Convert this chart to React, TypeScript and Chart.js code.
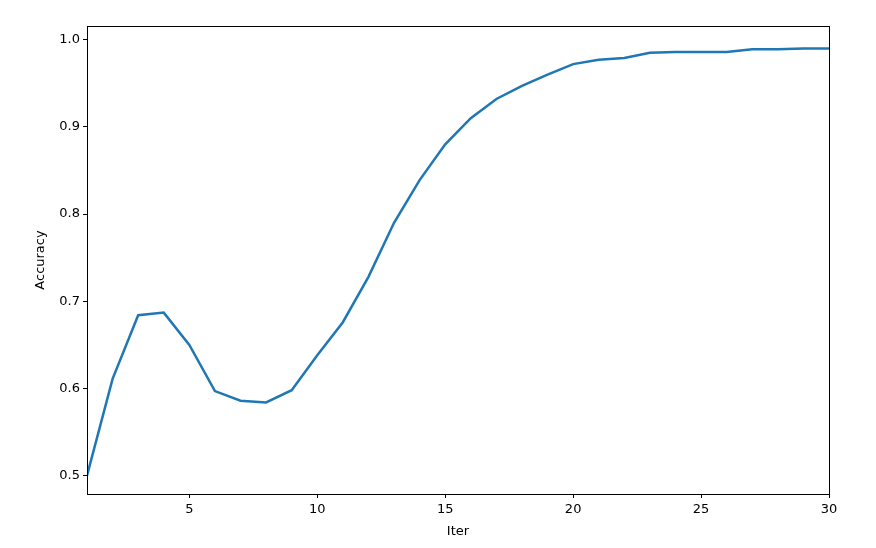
import React, { useEffect, useRef } from "react";
import { Chart, registerables } from "chart.js";

Chart.register(...registerables);

const iters = [1, 2, 3, 4, 5, 6, 7, 8, 9, 10, 11, 12, 13, 14, 15, 16, 17, 18, 19, 20, 21, 22, 23, 24, 25, 26, 27, 28, 29, 30];
const accuracy = [0.5, 0.611, 0.684, 0.687, 0.65, 0.597, 0.586, 0.584, 0.598, 0.638, 0.676, 0.728, 0.79, 0.839, 0.88, 0.91, 0.932, 0.947, 0.96, 0.972, 0.977, 0.979, 0.985, 0.986, 0.986, 0.986, 0.989, 0.989, 0.99, 0.99];
const xTicks = [5, 10, 15, 20, 25, 30];
const yTicks = [0.5, 0.6, 0.7, 0.8, 0.9, 1.0];
const xTitle = "Iter";
const yTitle = "Accuracy";

const FONT = "'DejaVu Sans', sans-serif";

const framePlugin = {
  id: "frame",
  afterDraw(chart: any) {
    const { ctx, chartArea } = chart;
    ctx.save();
    ctx.strokeStyle = "#000";
    ctx.lineWidth = 1;
    ctx.strokeRect(
      Math.round(chartArea.left) + 0.5,
      Math.round(chartArea.top) + 0.5,
      Math.round(chartArea.right - chartArea.left),
      Math.round(chartArea.bottom - chartArea.top)
    );
    ctx.fillStyle = "#000";
    ctx.font = `13px ${FONT}`;
    ctx.textAlign = "center";
    ctx.textBaseline = "middle";
    ctx.fillText(xTitle, (chartArea.left + chartArea.right) / 2, chartArea.bottom + 38);
    ctx.translate(chartArea.left - 46, (chartArea.top + chartArea.bottom) / 2);
    ctx.rotate(-Math.PI / 2);
    ctx.fillText(yTitle, 0, 0);
    ctx.restore();
  },
};

export default function App() {
  const ref = useRef<HTMLCanvasElement>(null);
  useEffect(() => {
    document.body.style.margin = "0";
    const chart = new Chart(ref.current!, {
      type: "line",
      data: {
        datasets: [
          {
            data: iters.map((x, i) => ({ x, y: accuracy[i] })),
            borderColor: "#1f77b4",
            borderWidth: 2.5,
            pointRadius: 0,
            tension: 0,
            fill: false,
          },
        ],
      },
      plugins: [framePlugin],
      options: {
        responsive: false,
        animation: false,
        layout: { padding: { left: 0, right: 47, top: 26, bottom: 0 } },
        plugins: { legend: { display: false }, tooltip: { enabled: false } },
        scales: {
          x: {
            type: "linear",
            min: 1,
            max: 30,
            afterBuildTicks(axis: any) {
              axis.ticks = xTicks.map((v) => ({ value: v }));
            },
            afterFit(axis: any) {
              axis.height = 54;
            },
            grid: { display: true, drawOnChartArea: false, drawTicks: true, tickLength: 4, color: "#000" },
            border: { display: true, color: "#000" },
            ticks: { color: "#000", font: { family: FONT, size: 13 }, padding: 4, maxRotation: 0 },
          },
          y: {
            type: "linear",
            min: 0.479,
            max: 1.0157,
            afterBuildTicks(axis: any) {
              axis.ticks = yTicks.map((v) => ({ value: v }));
            },
            afterFit(axis: any) {
              axis.width = 87;
            },
            grid: { display: true, drawOnChartArea: false, drawTicks: true, tickLength: 4, color: "#000" },
            border: { display: true, color: "#000" },
            ticks: {
              color: "#000",
              font: { family: FONT, size: 13 },
              padding: 3,
              callback: (v: any) => Number(v).toFixed(1),
            },
          },
        },
      },
    });
    return () => chart.destroy();
  }, []);
  return <canvas ref={ref} width={876} height={548} style={{ display: "block" }} />;
}
